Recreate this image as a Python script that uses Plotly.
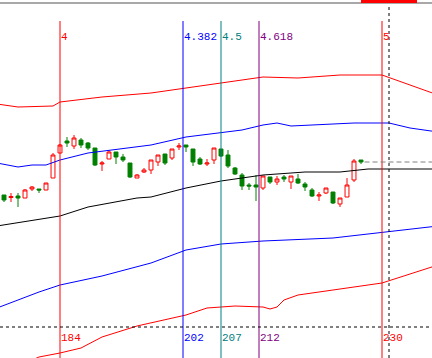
import plotly.graph_objects as go

# ---------------- data ----------------
bars = list(range(176, 228))
opens = [6.10, 6.05, 6.08, 6.04, 6.22, 6.22, 6.20, 6.44, 6.94, 7.18,
         7.08, 7.20, 7.14, 7.04, 6.72, 6.82, 6.96, 6.86, 6.74, 6.44,
         6.56, 6.60, 6.76, 6.92, 6.84, 7.06, 7.10, 7.02, 6.82, 6.72,
         6.80, 7.02, 6.90, 6.64, 6.50, 6.30, 6.30, 6.24, 6.46, 6.36,
         6.46, 6.36, 6.42, 6.32, 6.20, 6.08, 6.14, 6.16, 5.92, 6.06,
         6.40, 6.80]
highs = [6.10, 6.14, 6.14, 6.22, 6.28, 6.22, 6.34, 6.94, 7.12, 7.26,
         7.30, 7.24, 7.16, 7.04, 6.78, 7.00, 6.96, 6.92, 6.74, 6.52,
         6.64, 6.80, 6.90, 6.92, 7.02, 7.14, 7.10, 7.02, 6.86, 6.82,
         7.04, 7.02, 7.00, 6.66, 6.54, 6.34, 6.50, 6.48, 6.46, 6.48,
         6.50, 6.48, 6.52, 6.36, 6.24, 6.16, 6.24, 6.16, 6.04, 6.44,
         6.82, 6.80]
lows = [5.96, 5.96, 5.86, 6.04, 6.18, 6.14, 6.20, 6.44, 6.94, 7.06,
        7.02, 7.04, 7.00, 6.68, 6.58, 6.82, 6.72, 6.76, 6.44, 6.44,
        6.54, 6.52, 6.68, 6.70, 6.80, 7.00, 6.96, 6.68, 6.70, 6.68,
        6.72, 6.86, 6.64, 6.50, 6.20, 6.20, 5.98, 6.20, 6.32, 6.30,
        6.36, 6.22, 6.32, 6.18, 6.06, 5.98, 6.12, 5.92, 5.86, 6.06,
        6.36, 6.72]
closes = [6.00, 6.07, 6.04, 6.20, 6.26, 6.20, 6.34, 6.90, 7.10, 7.14,
          7.24, 7.10, 7.04, 6.70, 6.74, 6.96, 6.86, 6.80, 6.46, 6.50,
          6.60, 6.80, 6.90, 6.74, 7.02, 7.08, 7.06, 6.76, 6.72, 6.74,
          7.04, 6.88, 6.68, 6.52, 6.28, 6.28, 6.26, 6.48, 6.36, 6.42,
          6.42, 6.48, 6.34, 6.26, 6.08, 6.10, 6.24, 5.94, 6.04, 6.30,
          6.78, 6.76]

mid_x = [175, 181, 184, 188, 195, 197, 202, 207, 213, 215, 219, 224, 228, 238]
mid_y = [5.48, 5.62, 5.68, 5.86, 6.04, 6.06, 6.24, 6.38, 6.50, 6.52, 6.56, 6.56, 6.62, 6.62]

up1_x = [175, 178, 180, 182, 184, 188, 197, 202, 210, 213, 215, 217, 223, 226, 231, 234, 238]
up1_y = [6.74, 6.66, 6.70, 6.70, 6.80, 6.94, 7.10, 7.26, 7.40, 7.50, 7.54, 7.48, 7.52, 7.54, 7.54, 7.44, 7.36]

up2_x = [175, 178, 183, 184, 190, 197, 202, 207, 213, 218, 224, 230, 232, 235, 238]
up2_y = [7.92, 7.86, 7.88, 7.96, 8.06, 8.14, 8.24, 8.34, 8.46, 8.44, 8.50, 8.50, 8.40, 8.24, 8.10]

dn1_x = [175, 178, 181, 184, 190, 197, 202, 207, 213, 223, 230, 238]
dn1_y = [3.84, 4.00, 4.16, 4.30, 4.48, 4.74, 5.00, 5.12, 5.18, 5.24, 5.36, 5.48]

dn2_x = [180, 181, 184, 187, 190, 195, 202, 205, 209, 213, 214, 215, 216, 218, 223, 230, 238]
dn2_y = [2.80, 2.86, 2.94, 3.04, 3.26, 3.48, 3.70, 3.84, 3.88, 3.86, 3.82, 3.86, 4.00, 4.10, 4.20, 4.34, 4.70]

fib_ratios = [4, 4.382, 4.5, 4.618, 5]
fib_labels = ["4", "4.382", "4.5", "4.618", "5"]
cycle_len = 46
fib_colors = ["#ff0000", "#0000ff", "#008080", "#800080", "#ff0000"]

crosshair_bar = 231
crosshair_price = 3.46

x_range = [175.4286, 237.1429]
y_range = [2.84, 10.0]

# ---------------- figure ----------------
fig = go.Figure()

for xs, ys, col in [(up2_x, up2_y, "#ff0000"), (up1_x, up1_y, "#0000ff"),
                    (mid_x, mid_y, "#000000"), (dn1_x, dn1_y, "#0000ff"),
                    (dn2_x, dn2_y, "#ff0000")]:
    fig.add_trace(go.Scatter(x=xs, y=ys, mode="lines",
                             line=dict(color=col, width=1),
                             hoverinfo="skip", showlegend=False))

fig.add_trace(go.Candlestick(
    x=bars, open=opens, high=highs, low=lows, close=closes,
    increasing=dict(line=dict(color="#ff0000", width=1), fillcolor="#ffffff"),
    decreasing=dict(line=dict(color="#008000", width=1), fillcolor="#008000"),
    whiskerwidth=0, hoverinfo="skip", showlegend=False))

shapes = []
annotations = []
top_frac = 1 - 21 / 358
lab_font = "Liberation Mono"
for r, lab, col in zip(fib_ratios, fib_labels, fib_colors):
    xv = r * cycle_len
    shapes.append(dict(type="line", xref="x", yref="paper", x0=xv, x1=xv,
                       y0=0, y1=top_frac, line=dict(color=col, width=1)))
    annotations.append(dict(x=xv, y=1 - 37 / 358, xref="x", yref="paper",
                            text=lab, showarrow=False, xanchor="left",
                            yanchor="middle", xshift=-1,
                            font=dict(family=lab_font, size=11, color=col)))
    annotations.append(dict(x=xv, y=1 - 338 / 358, xref="x", yref="paper",
                            text=str(round(xv)), showarrow=False, xanchor="left",
                            yanchor="middle", xshift=-1,
                            font=dict(family=lab_font, size=11, color=col)))

# last close dashed gray
shapes.append(dict(type="line", xref="x", yref="y", x0=bars[-1] + 0.5, x1=x_range[1],
                   y0=closes[-1], y1=closes[-1],
                   line=dict(color="#808080", width=1, dash="5px,3px")))
# crosshair
shapes.append(dict(type="line", xref="x", yref="paper", x0=crosshair_bar, x1=crosshair_bar,
                   y0=0, y1=1 - 3 / 358, line=dict(color="#000000", width=1, dash="3px,3px")))
shapes.append(dict(type="line", xref="paper", yref="y", x0=0, x1=1,
                   y0=crosshair_price, y1=crosshair_price,
                   line=dict(color="#000000", width=1, dash="3px,3px")))
# top border and date box
shapes.append(dict(type="line", xref="paper", yref="paper", x0=0, x1=1,
                   y0=1 - 3 / 358, y1=1 - 3 / 358, line=dict(color="#a8a8a8", width=2)))
shapes.append(dict(type="rect", xref="paper", yref="paper", x0=361 / 432, x1=417 / 432,
                   y0=1 - 3 / 358, y1=1, line=dict(width=0), fillcolor="#ff0000"))

fig.update_layout(
    width=432, height=358,
    margin=dict(l=0, r=0, t=0, b=0),
    paper_bgcolor="#ffffff", plot_bgcolor="#ffffff",
    xaxis=dict(range=x_range, visible=False, rangeslider=dict(visible=False),
               showgrid=False, zeroline=False, fixedrange=True),
    yaxis=dict(range=y_range, visible=False, showgrid=False, zeroline=False,
               fixedrange=True),
    boxgap=0.2,
    shapes=shapes, annotations=annotations,
    showlegend=False, hovermode=False,
)

fig.write_html("out.html", include_plotlyjs=True, config=dict(displayModeBar=False),
               post_script="document.body.style.margin='0';")
